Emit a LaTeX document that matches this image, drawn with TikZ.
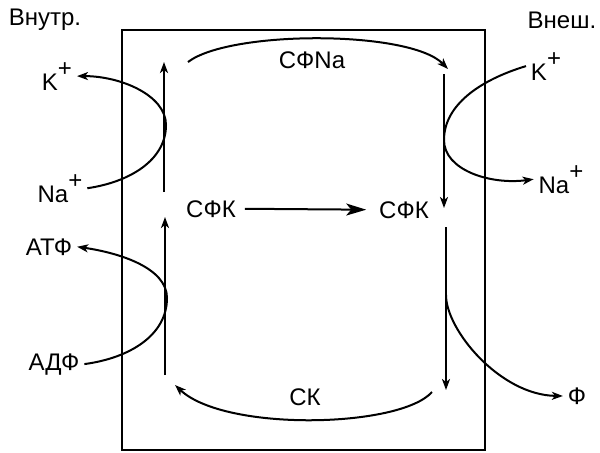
\documentclass[tikz,border=0pt]{standalone}
\usepackage{fontspec}
\setmainfont{Liberation Sans}
\usetikzlibrary{arrows.meta}

\begin{document}
\begin{tikzpicture}[x=0.5pt, y=-0.5pt, line width=1pt,
        every node/.style={font=\fontsize{12}{14}\selectfont, inner sep=2pt},
        arr/.style={-{Stealth[length=5.5pt, width=4pt, inset=1.5pt]}},
        bigarr/.style={-{Stealth[length=10pt, width=6pt, inset=2.5pt]}}]
        \useasboundingbox (0,0) rectangle (600,452);
        \draw (122,30) rectangle (485,450);
        % labels
        \node (inner) at (45,20) {Внутр.};
        \node (outer) at (562,20) {Внеш.};
        \node [anchor=base] (kin) at (57,90) {K\raisebox{1.1ex}{+}};
        \node [anchor=base] (nain) at (60,202) {Na\raisebox{1.1ex}{+}};
        \node [anchor=base] (atf) at (49,255) {АТФ};
        \node [anchor=base] (adf) at (54,370) {АДФ};
        \node [anchor=base] (kout) at (546,80) {K\raisebox{1.1ex}{+}};
        \node [anchor=base] (naout) at (561,193) {Na\raisebox{1.1ex}{+}};
        \node (fos) at (577,396) {Ф};
        \node [anchor=base] (sfna) at (312,68) {СФNa};
        \node [anchor=base] (sk) at (305,405) {СК};
        \node [anchor=base] (sfk1) at (211,217) {СФК};
        \node [anchor=base] (sfk2) at (404,218) {СФК};
        % ends of the vertical paths
        \coordinate (l1b) at (164,192); \coordinate (l1t) at (164,62);
        \coordinate (l2b) at (165,375); \coordinate (l2t) at (165,217);
        \coordinate (r1t) at (444,74);  \coordinate (r1b) at (444,208);
        \coordinate (r2t) at (446,227); \coordinate (r2b) at (446,390);
        \coordinate (ftop) at (446,295);
        \draw [arr] (l1b) -- (l1t);
        \draw [arr] (l2b) -- (l2t);
        \draw [arr] (r1t) -- (r1b);
        \draw [arr] (r2t) -- (r2b);
        \draw [bigarr, shorten <=2pt, shorten >=4pt] (sfk1.east) -- (sfk2.west);
        % cycle
        \draw [arr] (188,62) .. controls (230,30) and (410,30) .. (448,69);
        \draw [arr] (432,392) .. controls (400,428) and (225,432) .. (175,385);
        % ion exchange
        \draw [arr] (nain.east) .. controls (130,182) and (166,160) .. (166,125)
          .. controls (166,95) and (120,76) .. (kin.east);
        \draw [arr] (adf.east) .. controls (130,358) and (167,335) .. (167,298)
          .. controls (167,268) and (120,253) .. (atf.east);
        \draw [arr] (kout.west) .. controls (480,80) and (444,105) .. (444,140)
          .. controls (444,170) and (490,185) .. (naout.west);
        \draw [arr] (ftop) .. controls (446,330) and (500,395) .. (fos.west);
\end{tikzpicture}
\end{document}
